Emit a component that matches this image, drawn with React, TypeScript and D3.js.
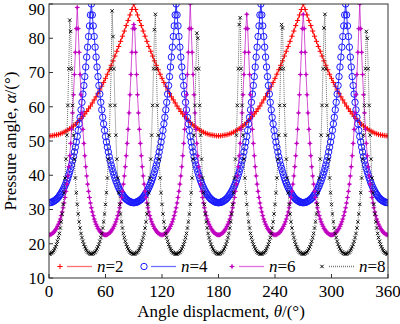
import React from "react";
import * as d3 from "d3";

const W = 400;
const H = 324;

const xTickValues = [0, 60, 120, 180, 240, 300, 360];
const yTickValues = [10, 20, 30, 40, 50, 60, 70, 80, 90];
const seriesNames = ["2", "4", "6", "8"];

// sampling angles (deg)
const thetaStep2 = d3.range(0, 361, 2);
const thetaStep1 = d3.range(0, 361, 1);

// n = 2 (theta = 0, 2, ..., 360)
const alphaN2 = [
  51.5,51.5,51.6,51.7,51.8,51.9,52.1,52.3,52.6,52.9,53.2,53.6,54.0,54.4,54.9,55.4,56.0,56.6,57.2,57.9,58.6,59.4,60.2,61.1,62.0,62.9,63.9,64.9,66.0,67.1,68.3,69.5,70.8,72.1,73.4,74.8,76.2,77.6,79.1,80.6,82.1,83.7,85.2,86.8,88.4,90.0,
  88.4,86.8,85.2,83.7,82.1,80.6,79.1,77.6,76.2,74.8,73.4,72.1,70.8,69.5,68.3,67.1,66.0,64.9,63.9,62.9,62.0,61.1,60.2,59.4,58.6,57.9,57.2,56.6,56.0,55.4,54.9,54.4,54.0,53.6,53.2,52.9,52.6,52.3,52.1,51.9,51.8,51.7,51.6,51.5,51.5,
  51.5,51.6,51.7,51.8,51.9,52.1,52.3,52.6,52.9,53.2,53.6,54.0,54.4,54.9,55.4,56.0,56.6,57.2,57.9,58.6,59.4,60.2,61.1,62.0,62.9,63.9,64.9,66.0,67.1,68.3,69.5,70.8,72.1,73.4,74.8,76.2,77.6,79.1,80.6,82.1,83.7,85.2,86.8,88.4,90.0,
  88.4,86.8,85.2,83.7,82.1,80.6,79.1,77.6,76.2,74.8,73.4,72.1,70.8,69.5,68.3,67.1,66.0,64.9,63.9,62.9,62.0,61.1,60.2,59.4,58.6,57.9,57.2,56.6,56.0,55.4,54.9,54.4,54.0,53.6,53.2,52.9,52.6,52.3,52.1,51.9,51.8,51.7,51.6,51.5,51.5
];

// n = 4 (theta = 0, 1, ..., 360)
const alphaN4 = [
  32.0,32.0,32.1,32.1,32.3,32.4,32.6,32.8,33.0,33.3,33.6,34.0,34.4,34.8,35.3,35.8,36.4,37.0,37.7,38.4,39.2,40.1,41.0,42.0,43.0,44.2,45.4,46.8,48.2,49.7,51.3,53.1,55.0,56.9,59.1,61.3,63.7,66.2,68.8,71.6,74.5,77.4,80.5,83.6,86.8,90.0,
  86.8,83.6,80.5,77.4,74.5,71.6,68.8,66.2,63.7,61.3,59.1,56.9,55.0,53.1,51.3,49.7,48.2,46.8,45.4,44.2,43.0,42.0,41.0,40.1,39.2,38.4,37.7,37.0,36.4,35.8,35.3,34.8,34.4,34.0,33.6,33.3,33.0,32.8,32.6,32.4,32.3,32.1,32.1,32.0,32.0,
  32.0,32.1,32.1,32.3,32.4,32.6,32.8,33.0,33.3,33.6,34.0,34.4,34.8,35.3,35.8,36.4,37.0,37.7,38.4,39.2,40.1,41.0,42.0,43.0,44.2,45.4,46.8,48.2,49.7,51.3,53.1,55.0,56.9,59.1,61.3,63.7,66.2,68.8,71.6,74.5,77.4,80.5,83.6,86.8,90.0,
  86.8,83.6,80.5,77.4,74.5,71.6,68.8,66.2,63.7,61.3,59.1,56.9,55.0,53.1,51.3,49.7,48.2,46.8,45.4,44.2,43.0,42.0,41.0,40.1,39.2,38.4,37.7,37.0,36.4,35.8,35.3,34.8,34.4,34.0,33.6,33.3,33.0,32.8,32.6,32.4,32.3,32.1,32.1,32.0,32.0,
  32.0,32.1,32.1,32.3,32.4,32.6,32.8,33.0,33.3,33.6,34.0,34.4,34.8,35.3,35.8,36.4,37.0,37.7,38.4,39.2,40.1,41.0,42.0,43.0,44.2,45.4,46.8,48.2,49.7,51.3,53.1,55.0,56.9,59.1,61.3,63.7,66.2,68.8,71.6,74.5,77.4,80.5,83.6,86.8,90.0,
  86.8,83.6,80.5,77.4,74.5,71.6,68.8,66.2,63.7,61.3,59.1,56.9,55.0,53.1,51.3,49.7,48.2,46.8,45.4,44.2,43.0,42.0,41.0,40.1,39.2,38.4,37.7,37.0,36.4,35.8,35.3,34.8,34.4,34.0,33.6,33.3,33.0,32.8,32.6,32.4,32.3,32.1,32.1,32.0,32.0,
  32.0,32.1,32.1,32.3,32.4,32.6,32.8,33.0,33.3,33.6,34.0,34.4,34.8,35.3,35.8,36.4,37.0,37.7,38.4,39.2,40.1,41.0,42.0,43.0,44.2,45.4,46.8,48.2,49.7,51.3,53.1,55.0,56.9,59.1,61.3,63.7,66.2,68.8,71.6,74.5,77.4,80.5,83.6,86.8,90.0,
  86.8,83.6,80.5,77.4,74.5,71.6,68.8,66.2,63.7,61.3,59.1,56.9,55.0,53.1,51.3,49.7,48.2,46.8,45.4,44.2,43.0,42.0,41.0,40.1,39.2,38.4,37.7,37.0,36.4,35.8,35.3,34.8,34.4,34.0,33.6,33.3,33.0,32.8,32.6,32.4,32.3,32.1,32.1,32.0,32.0
];

// n = 6 (theta = 0, 1, ..., 360)
const alphaN6 = [
  22.6,22.6,22.7,22.9,23.1,23.3,23.7,24.1,24.5,25.1,25.7,26.4,27.2,28.2,29.3,30.5,31.9,33.5,35.3,37.4,39.8,42.5,45.7,49.3,53.4,58.2,63.5,69.4,75.9,82.8,89.0,
  82.8,75.9,69.4,63.5,58.2,53.4,49.3,45.7,42.5,39.8,37.4,35.3,33.5,31.9,30.5,29.3,28.2,27.2,26.4,25.7,25.1,24.5,24.1,23.7,23.3,23.1,22.9,22.7,22.6,22.6,
  22.6,22.7,22.9,23.1,23.3,23.7,24.1,24.5,25.1,25.7,26.4,27.2,28.2,29.3,30.5,31.9,33.5,35.3,37.4,39.8,42.5,45.7,49.3,53.4,58.2,63.5,69.4,75.9,82.8,84.0,
  82.8,75.9,69.4,63.5,58.2,53.4,49.3,45.7,42.5,39.8,37.4,35.3,33.5,31.9,30.5,29.3,28.2,27.2,26.4,25.7,25.1,24.5,24.1,23.7,23.3,23.1,22.9,22.7,22.6,22.6,
  22.6,22.7,22.9,23.1,23.3,23.7,24.1,24.5,25.1,25.7,26.4,27.2,28.2,29.3,30.5,31.9,33.5,35.3,37.4,39.8,42.5,45.7,49.3,53.4,58.2,63.5,69.4,75.9,82.8,90.0,
  82.8,75.9,69.4,63.5,58.2,53.4,49.3,45.7,42.5,39.8,37.4,35.3,33.5,31.9,30.5,29.3,28.2,27.2,26.4,25.7,25.1,24.5,24.1,23.7,23.3,23.1,22.9,22.7,22.6,22.6,
  22.6,22.7,22.9,23.1,23.3,23.7,24.1,24.5,25.1,25.7,26.4,27.2,28.2,29.3,30.5,31.9,33.5,35.3,37.4,39.8,42.5,45.7,49.3,53.4,58.2,63.5,69.4,75.9,82.8,87.0,
  82.8,75.9,69.4,63.5,58.2,53.4,49.3,45.7,42.5,39.8,37.4,35.3,33.5,31.9,30.5,29.3,28.2,27.2,26.4,25.7,25.1,24.5,24.1,23.7,23.3,23.1,22.9,22.7,22.6,22.6,
  22.6,22.7,22.9,23.1,23.3,23.7,24.1,24.5,25.1,25.7,26.4,27.2,28.2,29.3,30.5,31.9,33.5,35.3,37.4,39.8,42.5,45.7,49.3,53.4,58.2,63.5,69.4,75.9,82.8,87.0,
  82.8,75.9,69.4,63.5,58.2,53.4,49.3,45.7,42.5,39.8,37.4,35.3,33.5,31.9,30.5,29.3,28.2,27.2,26.4,25.7,25.1,24.5,24.1,23.7,23.3,23.1,22.9,22.7,22.6,22.6,
  22.6,22.7,22.9,23.1,23.3,23.7,24.1,24.5,25.1,25.7,26.4,27.2,28.2,29.3,30.5,31.9,33.5,35.3,37.4,39.8,42.5,45.7,49.3,53.4,58.2,63.5,69.4,75.9,82.8,90.0,
  82.8,75.9,69.4,63.5,58.2,53.4,49.3,45.7,42.5,39.8,37.4,35.3,33.5,31.9,30.5,29.3,28.2,27.2,26.4,25.7,25.1,24.5,24.1,23.7,23.3,23.1,22.9,22.7,22.6,22.6
];

// n = 8 (theta = 0, 1, ..., 360)
const alphaN8 = [
  17.0,17.0,17.2,17.4,17.6,18.0,18.5,19.1,19.8,20.7,21.8,23.0,24.6,26.4,28.7,31.5,34.9,39.2,44.7,51.7,60.4,71.1,85.3,82.0,71.1,60.4,51.7,44.7,39.2,34.9,31.5,28.7,26.4,24.6,23.0,21.8,20.7,19.8,19.1,18.5,18.0,17.6,17.4,17.2,17.0,
  17.0,17.0,17.2,17.4,17.6,18.0,18.5,19.1,19.8,20.7,21.8,23.0,24.6,26.4,28.7,31.5,34.9,39.2,44.7,51.7,60.4,71.1,88.0,80.5,71.1,60.4,51.7,44.7,39.2,34.9,31.5,28.7,26.4,24.6,23.0,21.8,20.7,19.8,19.1,18.5,18.0,17.6,17.4,17.2,17.0,
  17.0,17.0,17.2,17.4,17.6,18.0,18.5,19.1,19.8,20.7,21.8,23.0,24.6,26.4,28.7,31.5,34.9,39.2,44.7,51.7,60.4,71.1,82.5,87.0,71.1,60.4,51.7,44.7,39.2,34.9,31.5,28.7,26.4,24.6,23.0,21.8,20.7,19.8,19.1,18.5,18.0,17.6,17.4,17.2,17.0,
  17.0,17.0,17.2,17.4,17.6,18.0,18.5,19.1,19.8,20.7,21.8,23.0,24.6,26.4,28.7,31.5,34.9,39.2,44.7,51.7,60.4,71.1,81.5,80.0,71.1,60.4,51.7,44.7,39.2,34.9,31.5,28.7,26.4,24.6,23.0,21.8,20.7,19.8,19.1,18.5,18.0,17.6,17.4,17.2,17.0,
  17.0,17.0,17.2,17.4,17.6,18.0,18.5,19.1,19.8,20.7,21.8,23.0,24.6,26.4,28.7,31.5,34.9,39.2,44.7,51.7,60.4,71.1,84.0,86.0,71.1,60.4,51.7,44.7,39.2,34.9,31.5,28.7,26.4,24.6,23.0,21.8,20.7,19.8,19.1,18.5,18.0,17.6,17.4,17.2,17.0,
  17.0,17.0,17.2,17.4,17.6,18.0,18.5,19.1,19.8,20.7,21.8,23.0,24.6,26.4,28.7,31.5,34.9,39.2,44.7,51.7,60.4,71.1,84.0,83.0,71.1,60.4,51.7,44.7,39.2,34.9,31.5,28.7,26.4,24.6,23.0,21.8,20.7,19.8,19.1,18.5,18.0,17.6,17.4,17.2,17.0,
  17.0,17.0,17.2,17.4,17.6,18.0,18.5,19.1,19.8,20.7,21.8,23.0,24.6,26.4,28.7,31.5,34.9,39.2,44.7,51.7,60.4,71.1,83.0,87.0,71.1,60.4,51.7,44.7,39.2,34.9,31.5,28.7,26.4,24.6,23.0,21.8,20.7,19.8,19.1,18.5,18.0,17.6,17.4,17.2,17.0,
  17.0,17.0,17.2,17.4,17.6,18.0,18.5,19.1,19.8,20.7,21.8,23.0,24.6,26.4,28.7,31.5,34.9,39.2,44.7,51.7,60.4,71.1,82.0,80.0,71.1,60.4,51.7,44.7,39.2,34.9,31.5,28.7,26.4,24.6,23.0,21.8,20.7,19.8,19.1,18.5,18.0,17.6,17.4,17.2,17.0,
  17.0
];

type Kind = "plus" | "circle" | "star" | "cross";

const FONT = "'Times New Roman', 'Liberation Serif', serif";

function markerPath(kind: Kind, px: number, py: number): string {
  if (kind === "plus") return `M${px - 2.6},${py}h5.2M${px},${py - 2.6}v5.2`;
  if (kind === "star") return `M${px - 2.4},${py}h4.8M${px},${py - 2.4}v4.8`;
  if (kind === "cross") return `M${px - 1.7},${py - 1.7}l3.4,3.4M${px - 1.7},${py + 1.7}l3.4,-3.4`;
  const r = 3.2;
  return `M${px + r},${py}a${r},${r} 0 1,0 ${-2 * r},0a${r},${r} 0 1,0 ${2 * r},0`;
}

export default function App() {
  const left = 49, right = 388, top = 4, bottom = 278;
  const x = d3.scaleLinear().domain([0, 360]).range([left, right]);
  const y = d3.scaleLinear().domain([10, 90]).range([bottom, top]);

  const series = [
    { name: seriesNames[0], theta: thetaStep2, values: alphaN2, color: "#ff0000", legendColor: "#ff7070", kind: "plus" as Kind, dash: undefined as string | undefined },
    { name: seriesNames[1], theta: thetaStep1, values: alphaN4, color: "#1a1aff", legendColor: "#7070ff", kind: "circle" as Kind, dash: undefined },
    { name: seriesNames[2], theta: thetaStep1, values: alphaN6, color: "#c000c0", legendColor: "#e070e0", kind: "star" as Kind, dash: undefined },
    { name: seriesNames[3], theta: thetaStep1, values: alphaN8, color: "#000000", legendColor: "#777777", kind: "cross" as Kind, dash: "1,1" },
  ];

  const line = d3.line<[number, number]>().x((d) => x(d[0])).y((d) => y(d[1]));

  const legendX = [60, 144, 232, 322];
  const legendY = 266.5;

  return (
    <svg width={W} height={H} style={{ position: "absolute", left: 0, top: 0, background: "#fff" }} fontFamily={FONT}>
      <defs>
        <clipPath id="plotClip">
          <rect x={left} y={top} width={right - left} height={bottom - top} />
        </clipPath>
      </defs>
      <rect x={0} y={0} width={W} height={H} fill="#fff" />
      <g clipPath="url(#plotClip)">
        {series.map((s) => {
          const pts = s.theta.map((t, i) => [t, s.values[i]] as [number, number]);
          const lineColor = s.kind === "cross" ? "#444" : s.color;
          return (
            <g key={s.name}>
              <path d={line(pts) || ""} fill="none" stroke={lineColor} strokeWidth={s.kind === "cross" ? 0.8 : 0.9} strokeDasharray={s.dash} opacity={s.kind === "star" ? 0.75 : 1} />
              <path d={pts.map((p) => markerPath(s.kind, x(p[0]), y(p[1]))).join("")} fill="none" stroke={s.color} strokeWidth={s.kind === "cross" ? 0.9 : 1} />
              {s.kind === "star" &&
                pts.map((p, i) => <circle key={i} cx={x(p[0])} cy={y(p[1])} r={1.3} fill={s.color} />)}
            </g>
          );
        })}
      </g>

      {/* legend */}
      {series.map((s, i) => {
        const mx = legendX[i];
        return (
          <g key={"lg" + s.name}>
            <path d={markerPath(s.kind, mx, legendY)} fill="none" stroke={s.color} strokeWidth={1} />
            {s.kind === "star" && <circle cx={mx} cy={legendY} r={1.3} fill={s.color} />}
            <line x1={mx + 7} x2={mx + 32} y1={legendY} y2={legendY} stroke={s.legendColor} strokeWidth={1.3} strokeDasharray={s.dash} />
            <text x={mx + 37} y={legendY} dy="0.35em" fontSize={17} fill="#000">
              <tspan fontStyle="italic">n</tspan>={s.name}
            </text>
          </g>
        );
      })}

      {/* frame */}
      <rect x={left} y={top} width={right - left} height={bottom - top} fill="none" stroke="#333" strokeWidth={1} />

      {/* x axis */}
      {xTickValues.map((t) => (
        <g key={"xt" + t}>
          <line x1={x(t)} x2={x(t)} y1={bottom} y2={bottom - 4} stroke="#333" strokeWidth={1} />
          <text x={x(t)} y={296.5} textAnchor="middle" fontSize={17} fill="#000">
            {t}
          </text>
        </g>
      ))}
      {/* y axis */}
      {yTickValues.map((t) => (
        <g key={"yt" + t}>
          <line x1={left} x2={left + 4} y1={y(t)} y2={y(t)} stroke="#333" strokeWidth={1} />
          <text x={45} y={Math.max(y(t), 9)} dy="0.35em" textAnchor="end" fontSize={16.5} fill="#000">
            {t}
          </text>
        </g>
      ))}

      <text x={221} y={317} textAnchor="middle" fontSize={17} fill="#000">
        Angle displacment, <tspan fontStyle="italic">θ</tspan>/(°)
      </text>
      <text transform={`translate(16,${(top + bottom) / 2}) rotate(-90)`} textAnchor="middle" fontSize={17} fill="#000">
        Pressure angle, <tspan fontStyle="italic">α</tspan>/(°)
      </text>
    </svg>
  );
}
